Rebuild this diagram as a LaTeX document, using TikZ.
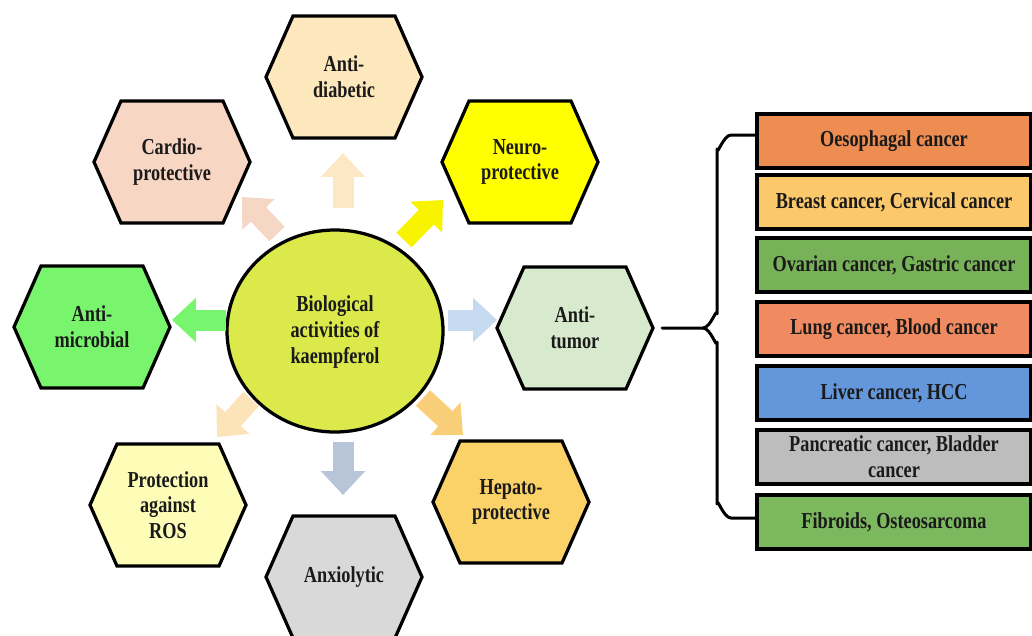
\documentclass[tikz,border=0pt]{standalone}
\usepackage{fontspec}
\setmainfont{Liberation Serif}[FakeStretch=0.8]
\usetikzlibrary{arrows.meta,calc}
\definecolor{hdia}{HTML}{FDE8BE}
\definecolor{hcar}{HTML}{F8D6C4}
\definecolor{hneu}{HTML}{FFFF00}
\definecolor{hmic}{HTML}{78F56C}
\definecolor{htum}{HTML}{D8EACD}
\definecolor{hros}{HTML}{FEFDB8}
\definecolor{hanx}{HTML}{D9D9D9}
\definecolor{hhep}{HTML}{FAD268}
\definecolor{ccir}{HTML}{DCE94A}
\definecolor{adia}{HTML}{FCE8C4}
\definecolor{acar}{HTML}{F6D6C4}
\definecolor{aneu}{HTML}{F8F400}
\definecolor{amic}{HTML}{78F56E}
\definecolor{atum}{HTML}{C6DAF0}
\definecolor{aros}{HTML}{FCE3B8}
\definecolor{aanx}{HTML}{B8C4D8}
\definecolor{ahep}{HTML}{F9CE78}
\definecolor{bone}{HTML}{EE8D52}
\definecolor{btwo}{HTML}{FBC86C}
\definecolor{bthr}{HTML}{77B258}
\definecolor{bfou}{HTML}{F08B61}
\definecolor{bfiv}{HTML}{6396DA}
\definecolor{bsix}{HTML}{BDBDBD}
\definecolor{bsev}{HTML}{7CB95E}
\definecolor{ink}{HTML}{1A1A1A}
\newcommand\hexat[4]{%
  \filldraw[hexline, fill=#3] ($(#2)+(-78,0)$) -- ($(#2)+(-51,-61)$) -- ($(#2)+(51,-61)$)
    -- ($(#2)+(78,0)$) -- ($(#2)+(51,61)$) -- ($(#2)+(-51,61)$) -- cycle;
  \node[lbl] (#1) at (#2) {#4};}
\begin{document}
\begin{tikzpicture}[x=0.02cm,y=-0.02cm,
  lbl/.style={font=\bfseries\fontsize{13}{14.6}\selectfont, align=center, text=ink},
  hexline/.style={draw=black, line width=0.065cm, line join=miter},
  barrow/.style={draw=#1, line width=0.42cm, -{Triangle[width=0.86cm,length=0.48cm,fill=#1]}},
  cbox/.style={draw=black, line width=0.065cm, minimum width=5.48cm, minimum height=1.08cm,
    inner sep=1pt, font=\bfseries\fontsize{13}{14.6}\selectfont, align=center, text=ink},
  bracel/.style={draw=black, line width=0.06cm, line cap=round, line join=round}]
\useasboundingbox (0,0) rectangle (1032,636);
\clip (0,0) rectangle (1032,636);
% hexagons
\hexat{dia}{344,77}{hdia}{Anti-\\diabetic}
\hexat{car}{172,162}{hcar}{Cardio-\\protective}
\hexat{neu}{520,162}{hneu}{Neuro-\\protective}
\hexat{mic}{92,327}{hmic}{Anti-\\microbial}
\hexat{tum}{575,328}{htum}{Anti-\\tumor}
\hexat{ros}{168,505}{hros}{Protection\\against\\ROS}
\hexat{anx}{344,577}{hanx}{Anxiolytic}
\hexat{hep}{511,502}{hhep}{Hepato-\\protective}
% centre
\filldraw[hexline, fill=ccir] (335,331) ellipse [x radius=108, y radius=101];
\node[lbl] (cen) at (335,332) {Biological\\activities of\\kaempferol};
% block arrows
\coordinate (s1) at (343,208); \coordinate (e1) at (343,153);
\coordinate (s2) at (277,234); \coordinate (e2) at (242,197);
\coordinate (s3) at (404,240); \coordinate (e3) at (443,200);
\coordinate (s4) at (226,320); \coordinate (e4) at (172,320);
\coordinate (s5) at (448,320); \coordinate (e5) at (497,320);
\coordinate (s6) at (251,399); \coordinate (e6) at (217,437);
\coordinate (s7) at (343,442); \coordinate (e7) at (343,495);
\coordinate (s8) at (423,398); \coordinate (e8) at (463,435);
\draw[barrow=adia] (s1) -- (e1);
\draw[barrow=acar] (s2) -- (e2);
\draw[barrow=aneu] (s3) -- (e3);
\draw[barrow=amic] (s4) -- (e4);
\draw[barrow=atum] (s5) -- (e5);
\draw[barrow=aros] (s6) -- (e6);
\draw[barrow=aanx] (s7) -- (e7);
\draw[barrow=ahep] (s8) -- (e8);
% cancer boxes
\node[cbox, fill=bone] (b1) at (894,141) {Oesophagal cancer};
\node[cbox, fill=btwo] (b2) at (894,202) {Breast cancer, Cervical cancer};
\node[cbox, fill=bthr] (b3) at (894,265) {Ovarian cancer, Gastric cancer};
\node[cbox, fill=bfou] (b4) at (894,329) {Lung cancer, Blood cancer};
\node[cbox, fill=bfiv] (b5) at (894,393) {Liver cancer, HCC};
\node[cbox, fill=bsix] (b6) at (894,457) {Pancreatic cancer, Bladder\\cancer};
\node[cbox, fill=bsev] (b7) at (894,522) {Fibroids, Osteosarcoma};
% brace
\coordinate (pr) at ($(tum.center)+(87,0)$);
\draw[bracel] ($(b1.west)+(0,-6)$) -- (731,135) to[out=180,in=-90] (717,149)
  -- (717,314) to[out=90,in=0] (703,328) -- (pr);
\draw[bracel] (703,328) to[out=0,in=-90] (717,342) -- (717,504)
  to[out=90,in=180] (731,518) -- ($(b7.west)+(0,-4)$);
\end{tikzpicture}
\end{document}
